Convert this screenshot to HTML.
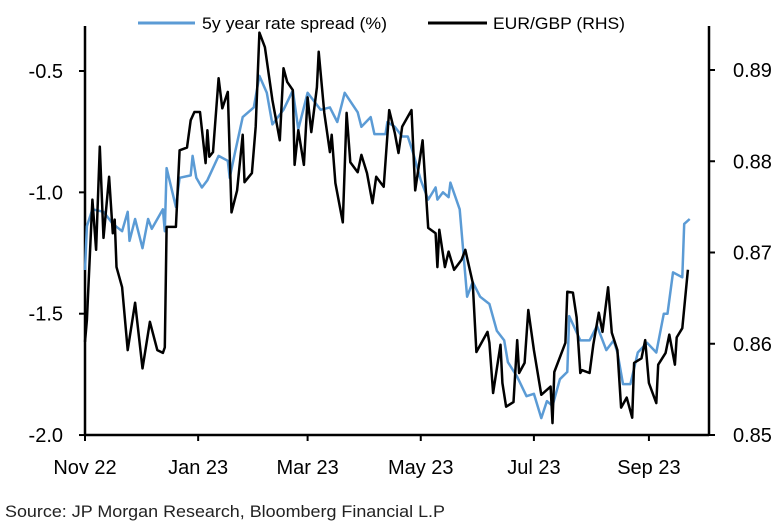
<!DOCTYPE html>
<html><head><meta charset="utf-8"><style>
html,body{margin:0;padding:0;background:#fff;}
svg{display:block;font-family:"Liberation Sans",Arial,sans-serif;}
</style></head><body>
<svg id="chart" width="776" height="527" viewBox="0 0 776 527">
<g>
<line x1="138" y1="23" x2="195" y2="23" stroke="#5b9bd5" stroke-width="3"/>
<text x="202" y="29" font-size="17" textLength="185" lengthAdjust="spacingAndGlyphs">5y year rate spread (%)</text>
<line x1="428" y1="23" x2="487" y2="23" stroke="#000" stroke-width="3"/>
<text x="493" y="29" font-size="17" textLength="132" lengthAdjust="spacingAndGlyphs">EUR/GBP (RHS)</text>
</g>
<g id="axes"></g>
<g id="series"></g>
<text x="5" y="517" font-size="17" textLength="440" lengthAdjust="spacingAndGlyphs" fill="#222">Source: JP Morgan Research, Bloomberg Financial L.P</text>
</svg>
<script>
const spreadDays=[0,1,4,10,15,20,23,24,27,31,34,36,42,43,44,49,51,57,58,60,63,66,72,77,78,81,85,91,94,98,101,107,112,115,120,127,132,136,140,147,149,154,156,162,163,167,171,174,177,181,185,189,190,193,196,197,202,206,209,213,218,222,226,228,233,238,242,246,249,252,256,260,261,267,272,276,281,285,287,290,294,298,303,308,312,314,317,322,323,326];
const spreadValues=[-1.32,-1.14,-1.07,-1.08,-1.13,-1.16,-1.08,-1.20,-1.11,-1.23,-1.11,-1.15,-1.07,-1.16,-0.90,-1.06,-0.94,-0.93,-0.85,-0.94,-0.98,-0.95,-0.85,-0.87,-0.94,-0.83,-0.69,-0.65,-0.52,-0.59,-0.72,-0.66,-0.58,-0.74,-0.59,-0.66,-0.65,-0.71,-0.59,-0.67,-0.73,-0.69,-0.76,-0.76,-0.71,-0.73,-0.77,-0.77,-0.84,-0.95,-1.03,-0.98,-1.03,-1.00,-1.02,-0.96,-1.07,-1.43,-1.37,-1.43,-1.46,-1.57,-1.61,-1.70,-1.76,-1.84,-1.83,-1.93,-1.86,-1.88,-1.77,-1.74,-1.51,-1.61,-1.61,-1.55,-1.65,-1.61,-1.66,-1.79,-1.79,-1.66,-1.62,-1.66,-1.50,-1.50,-1.33,-1.35,-1.13,-1.11];
const fxDays=[0,1,4,6,8,10,13,15,16,17,20,23,27,31,35,39,42,43,44,49,51,55,57,59,62,65,66,67,69,72,74,77,79,82,85,86,90,92,94,97,101,105,107,109,112,113,115,118,120,122,125,126,129,132,133,135,139,141,143,147,149,152,155,157,161,164,167,169,171,176,178,182,185,189,190,191,194,196,199,203,205,209,211,217,218,220,224,225,227,231,233,234,237,239,242,246,251,252,253,259,260,263,265,267,268,272,274,277,279,282,284,287,289,292,295,296,300,302,304,308,309,313,315,318,319,322,325];
const fxValues=[0.8602,0.8626,0.8758,0.8703,0.8816,0.8716,0.8783,0.8721,0.8736,0.8684,0.8662,0.8593,0.8645,0.8573,0.8624,0.8593,0.8590,0.8596,0.8728,0.8728,0.8812,0.8815,0.8845,0.8854,0.8854,0.8798,0.8834,0.8805,0.8810,0.8891,0.8858,0.8876,0.8744,0.8768,0.8829,0.8777,0.8787,0.8838,0.8941,0.8925,0.8867,0.8823,0.8902,0.8887,0.8878,0.8796,0.8834,0.8796,0.8870,0.8832,0.8881,0.8920,0.8853,0.8810,0.8829,0.8776,0.8733,0.8853,0.8799,0.8788,0.8807,0.8787,0.8754,0.8783,0.8772,0.8856,0.8831,0.8809,0.8838,0.8856,0.8768,0.8823,0.8727,0.8721,0.8684,0.8725,0.8684,0.8701,0.8681,0.8692,0.8703,0.8667,0.8591,0.8613,0.8601,0.8546,0.8599,0.8557,0.8531,0.8536,0.8604,0.8568,0.8579,0.8637,0.8593,0.8544,0.8553,0.8513,0.8569,0.8601,0.8657,0.8656,0.8629,0.8568,0.8571,0.8568,0.8599,0.8634,0.8613,0.8662,0.8612,0.8593,0.8530,0.8541,0.8519,0.8579,0.8584,0.8604,0.8557,0.8535,0.8577,0.8590,0.8610,0.8577,0.8607,0.8617,0.8681];
const xTickDays=[0,61,120,181,242,304];
const xTickLabels=["Nov 22","Jan 23","Mar 23","May 23","Jul 23","Sep 23"];
const leftTicks=[-0.5,-1.0,-1.5,-2.0];
const leftTickLabels=["-0.5","-1.0","-1.5","-2.0"];
const rightTicks=[0.89,0.88,0.87,0.86,0.85];
const rightTickLabels=["0.89","0.88","0.87","0.86","0.85"];

const NS="http://www.w3.org/2000/svg";
const X0=85,X1=709,YB=435,YT=26;
const xs=d=>85+d*1.855;
const yl=v=>71+(-0.5-v)*242.7;
const yr=v=>70+(0.89-v)*9125;
function mk(tag,attrs,parent){const e=document.createElementNS(NS,tag);for(const k in attrs)e.setAttribute(k,attrs[k]);parent.appendChild(e);return e;}
const axes=document.getElementById('axes');
const series=document.getElementById('series');

let l=mk('line',{x1:X0,y1:YT,x2:X0,y2:YB+1,stroke:'#000','stroke-width':2.5},axes);


l=mk('line',{x1:X1,y1:YT,x2:X1,y2:YB+1,stroke:'#000','stroke-width':2.5},axes);


l=mk('line',{x1:X0,y1:YB,x2:X1,y2:YB,stroke:'#000','stroke-width':2.5},axes);



leftTicks.forEach((v,i)=>{
  const y=yl(v);
  const t=mk('line',{x1:X0-6,y1:y,x2:X0,y2:y,stroke:'#000','stroke-width':2},axes);
  
  
  const tx=mk('text',{x:63,y:y+7,'font-size':20,'text-anchor':'end'},axes);
  tx.textContent=leftTickLabels[i];
  
  
});
rightTicks.forEach((v,i)=>{
  const y=yr(v);
  const t=mk('line',{x1:X1,y1:y,x2:X1+6,y2:y,stroke:'#000','stroke-width':2},axes);
  
  
  const tx=mk('text',{x:733,y:y+7,'font-size':20},axes);
  tx.textContent=rightTickLabels[i];
  
  
});
xTickDays.forEach((d,i)=>{
  const x=xs(d);
  const t=mk('line',{x1:x,y1:YB,x2:x,y2:YB+6,stroke:'#000','stroke-width':2},axes);
  
  
  const tx=mk('text',{x:x,y:474,'font-size':20,'text-anchor':'middle'},axes);
  tx.textContent=xTickLabels[i];
  
  
});
function pts(days,vals,f){return days.map((d,i)=>xs(d).toFixed(1)+','+f(vals[i]).toFixed(1)).join(' ');}
let p=mk('polyline',{points:pts(spreadDays,spreadValues,yl),fill:'none',stroke:'#5b9bd5','stroke-width':2.5,'stroke-linejoin':'round'},series);


p=mk('polyline',{points:pts(fxDays,fxValues,yr),fill:'none',stroke:'#000','stroke-width':2.5,'stroke-linejoin':'round'},series);


</script>
</body></html>
